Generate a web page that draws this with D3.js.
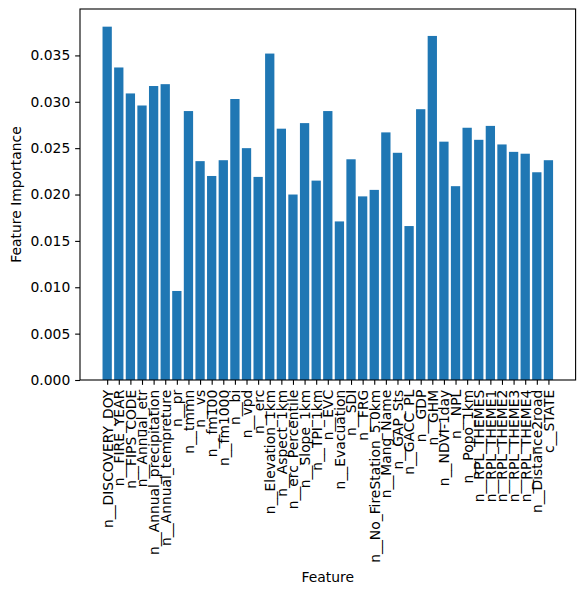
<!DOCTYPE html>
<html>
<head>
<meta charset="utf-8">
<script src="https://cdn.jsdelivr.net/npm/d3@7"></script>
<style>
  body { margin: 0; background: #fff; }
  text { font-family: "DejaVu Sans", sans-serif; }
</style>
</head>
<body>
<div id="chart"></div>
<script>
// feature names and importances
const features = [
  "n__DISCOVERY_DOY", "n__FIRE_YEAR", "n__FIPS_CODE", "n__Annual_etr",
  "n__Annual_precipitation", "n__Annual_tempreture", "n__pr", "n__tmmn",
  "n__vs", "n__fm100", "n__fm1000", "n__bi", "n__vpd", "n__erc",
  "n__Elevation_1km", "n__Aspect_1km", "n__erc_Percentile", "n__Slope_1km",
  "n__TPI_1km", "n__EVC", "n__Evacuation", "n__SDI", "n__FRG",
  "n__No_FireStation_5.0km", "n__Mang_Name", "n__GAP_Sts", "n__GACC_PL",
  "n__GDP", "n__GHM", "n__NDVI-1day", "n__NPL", "n__Popo_1km",
  "n__RPL_THEMES", "n__RPL_THEME1", "n__RPL_THEME2", "n__RPL_THEME3",
  "n__RPL_THEME4", "n__Distance2road", "c__STATE"
];
const importance = [
  0.0381, 0.0337, 0.0309, 0.0296, 0.0317, 0.0319, 0.0096, 0.0290,
  0.0236, 0.0220, 0.0237, 0.0303, 0.0250, 0.0219, 0.0352, 0.0271,
  0.0200, 0.0277, 0.0215, 0.0290, 0.0171, 0.0238, 0.0198, 0.0205,
  0.0267, 0.0245, 0.0166, 0.0292, 0.0371, 0.0257, 0.0209, 0.0272,
  0.0259, 0.0274, 0.0254, 0.0246, 0.0244, 0.0224, 0.0237
];
const yTicks = [0, 0.005, 0.010, 0.015, 0.020, 0.025, 0.030, 0.035];

const W = 585, H = 592;
const margin = {top: 9, left: 80, right: 9.4, bottom: 212};
const width = W - margin.left - margin.right,
      height = H - margin.top - margin.bottom;
const fs = 13.89, tickLen = 4.86, pad = 4.86;

const svg = d3.select("#chart").append("svg")
  .attr("width", W).attr("height", H);
const g = svg.append("g")
  .attr("transform", "translate(" + margin.left + "," + margin.top + ")");

// matplotlib style: bars width 0.8 and 5% margins
const n = features.length;
const lo = -0.4, hi = n - 1 + 0.4, span = hi - lo;
const x = d3.scaleLinear()
  .domain([lo - 0.05 * span, hi + 0.05 * span])
  .range([0, width]);
const yMax = d3.max(importance) * 1.05;
const y = d3.scaleLinear().domain([0, yMax]).range([height, 0]);

g.selectAll("rect.bar")
  .data(importance)
  .enter().append("rect")
  .attr("class", "bar")
  .attr("x", (d, i) => x(i - 0.4))
  .attr("width", (d, i) => x(i + 0.4) - x(i - 0.4))
  .attr("y", d => y(d))
  .attr("height", d => y(0) - y(d))
  .attr("fill", "#1f77b4");

// y axis
const yAxis = d3.axisLeft(y).tickValues(yTicks)
  .tickFormat(d3.format(".3f")).tickSize(tickLen).tickPadding(pad);
const ya = g.append("g").call(yAxis);
ya.select(".domain").remove();
ya.selectAll("line").attr("stroke", "#000").attr("stroke-width", 1.1);
ya.selectAll("text").style("font-size", fs + "px")
  .style("font-family", "DejaVu Sans").attr("fill", "#000");

// x axis
const xAxis = d3.axisBottom(x).tickValues(d3.range(n))
  .tickFormat(i => features[i]).tickSize(tickLen).tickPadding(pad);
const xa = g.append("g").attr("transform", "translate(0," + height + ")").call(xAxis);
xa.select(".domain").remove();
xa.selectAll("line").attr("stroke", "#000").attr("stroke-width", 1.1);
xa.selectAll("text")
  .style("font-size", fs + "px").style("font-family", "DejaVu Sans")
  .attr("fill", "#000")
  .attr("text-anchor", "end")
  .attr("transform", "rotate(-90)")
  .attr("x", -(tickLen + pad))
  .attr("y", 0)
  .attr("dy", "0.35em");

// frame
g.append("rect").attr("width", width).attr("height", height)
  .attr("fill", "none").attr("stroke", "#000").attr("stroke-width", 1.1);

// axis labels
svg.append("text")
  .attr("x", margin.left + width / 2).attr("y", 582)
  .attr("text-anchor", "middle").style("font-size", fs + "px")
  .text("Feature");

svg.append("text")
  .attr("transform", "translate(21," + (margin.top + height / 2) + ") rotate(-90)")
  .attr("text-anchor", "middle").style("font-size", fs + "px")
  .text("Feature Importance");
</script>
</body>
</html>
